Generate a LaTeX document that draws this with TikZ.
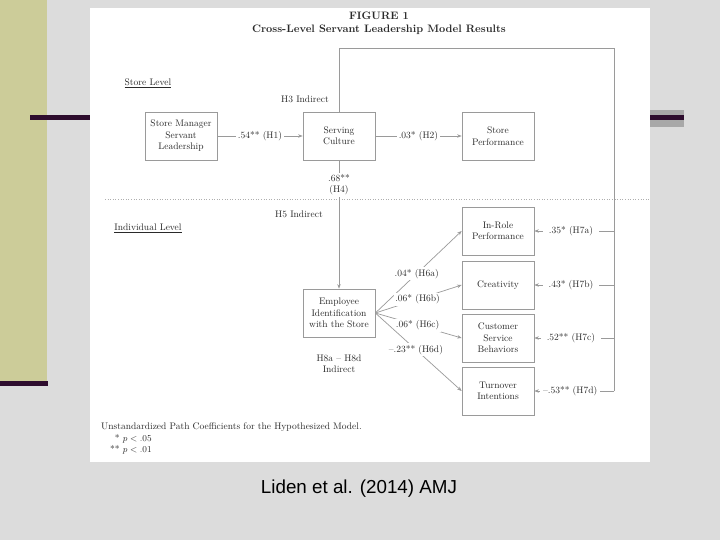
\documentclass[tikz,border=0pt]{standalone}
\usepackage{fontspec}
\newfontfamily\capfont{Liberation Sans}
\usetikzlibrary{arrows.meta}
\definecolor{bggray}{HTML}{DCDCDC}
\definecolor{olivebar}{HTML}{CCCC99}
\definecolor{darkplum}{HTML}{2E0D2E}
\definecolor{blockgray}{HTML}{A8A8A8}
\definecolor{linegray}{HTML}{9A9A9A}
\definecolor{txt}{HTML}{2A2A2A}
\tikzset{
  box/.style={draw=linegray, line width=0.7pt, minimum width=72pt, minimum height=48pt,
    inner sep=1pt, align=center, text=txt, font=\fontsize{9.5}{11.5}\selectfont},
  conn/.style={draw=linegray, line width=0.7pt},
  arr/.style={conn, -{Stealth[length=4.5pt,width=3.5pt]}},
  lbl/.style={fill=white, inner sep=1.5pt, text=txt, font=\fontsize{9.5}{11.5}\selectfont, align=center},
  rlbl/.style={lbl, inner xsep=6pt},
  plain/.style={text=txt, font=\fontsize{9.5}{11.5}\selectfont, align=center, inner sep=0pt},
  ttl/.style={text=txt, font=\fontsize{10.8}{13}\selectfont\bfseries, inner sep=0pt}
}
\begin{document}
\begin{tikzpicture}[x=1pt,y=-1pt]
\useasboundingbox (0,0) rectangle (720,540);
\fill[bggray] (0,0) rectangle (720,540);
% slide decorations
\fill[olivebar] (0,0) rectangle (47,385);
\fill[darkplum] (0,381) rectangle (48,386);
\fill[darkplum] (30,115) rectangle (90,120);
\fill[blockgray] (650,110) rectangle (684,127);
\fill[darkplum] (650,115) rectangle (684,120);
% white panel
\fill[white] (90,8) rectangle (650,462);
% title
\node[ttl] (fig) at (379,16) {FIGURE 1};
\node[ttl] (title) at (379,30) {Cross-Level Servant Leadership Model Results};
% level separator
\coordinate (sepL) at (105,199);
\coordinate (sepR) at (650,199);
\draw[linegray!80, dotted, line width=0.6pt] (sepL) -- (sepR);
\node[plain] (storelvl) at (148,83) {\underline{Store Level}};
\node[plain] (indlvl) at (148,228) {\underline{Individual Level}};
% boxes
\node[box] (SM) at (181,136) {Store Manager\\Servant\\Leadership};
\node[box] (SC) at (339,136) {Serving\\Culture};
\node[box] (SP) at (498,136) {Store\\Performance};
\node[box] (IR) at (498,231) {In-Role\\Performance};
\node[box] (CR) at (498,285) {Creativity};
\node[box] (CS) at (498,338) {Customer\\Service\\Behaviors};
\node[box] (TI) at (498,391) {Turnover\\Intentions};
\node[box] (EI) at (339,313) {Employee\\Identification\\with the Store};
% indirect labels
\node[plain] (h3) at (305,99) {H3 Indirect};
\node[plain] (h5) at (299,214) {H5 Indirect};
\node[plain] (h8) at (339,364) {H8a \textendash\ H8d\\Indirect};
% store level paths
\draw[arr] (SM) -- node[lbl, midway] {.54** (H1)} (SC);
\draw[arr] (SC) -- node[lbl, midway] {.03* (H2)} (SP);
\draw[arr] (SC) -- node[lbl, pos=0.19] {.68**\\(H4)} (EI);
% big frame and H7 paths
\coordinate (TR) at (614,48);
\coordinate (R1) at (614,231);
\coordinate (R2) at (614,285);
\coordinate (R3) at (614,338);
\coordinate (R4) at (614,391);
\draw[conn] (SC.north) |- (TR) -- (R4);
\draw[arr] (R1) -- node[rlbl, pos=0.54] {.35* (H7a)} (IR.east);
\draw[arr] (R2) -- node[rlbl, pos=0.54] {.43* (H7b)} (CR.east);
\draw[arr] (R3) -- node[rlbl, pos=0.54] {.52** (H7c)} (CS.east);
\draw[arr] (R4) -- node[lbl, inner xsep=3pt, pos=0.55] {\textendash.53** (H7d)} (TI.east);
% H6 paths
\draw[arr] (EI.east) -- node[lbl, pos=0.48] {.04* (H6a)} (IR.west);
\draw[arr] (EI.east) -- node[lbl, pos=0.49] {.06* (H6b)} (CR.west);
\draw[arr] (EI.east) -- node[lbl, pos=0.49] {.06* (H6c)} (CS.west);
\draw[arr] (EI.east) -- node[lbl, pos=0.47] {\textendash.23** (H6d)} (TI.west);
% footnote
\node[plain, anchor=west, font=\fontsize{9.5}{11}\selectfont] (note) at (101,427) {Unstandardized Path Coefficients for the Hypothesized Model.};
\node[plain, anchor=north west, font=\fontsize{9.5}{11.5}\selectfont] (sig) at (110,433)
  {\begin{tabular}{@{}r@{\ }l@{}}* & $p<.05$\\ {}** & $p<.01$\end{tabular}};
% caption
\node[inner sep=0pt, font=\capfont\fontsize{18.8}{21}\selectfont, text=black] (cap) at (359,489) {Liden et al. (2014) AMJ};
\end{tikzpicture}
\end{document}
